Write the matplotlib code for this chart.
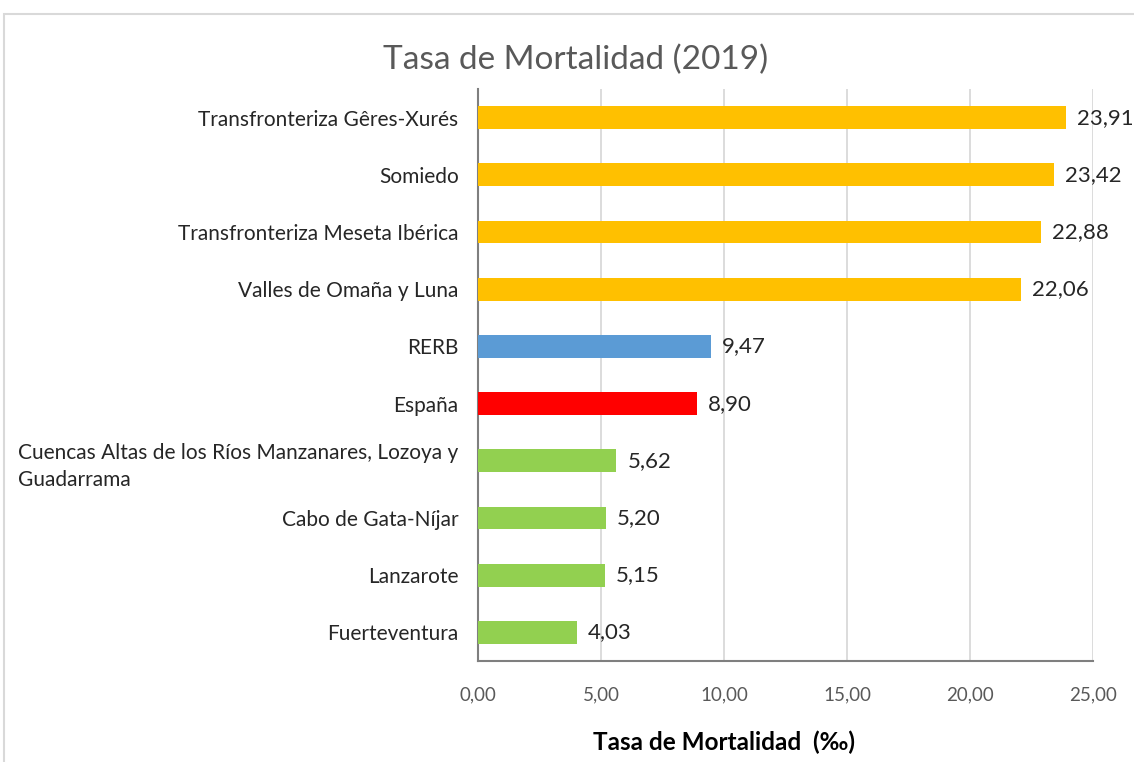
import matplotlib
matplotlib.use("Agg")
import matplotlib.pyplot as plt
from matplotlib.patches import Rectangle

plt.rcParams['font.family'] = ['Lato', 'DejaVu Sans']

categories = [
    "Transfronteriza Gêres-Xurés",
    "Somiedo",
    "Transfronteriza Meseta Ibérica",
    "Valles de Omaña y Luna",
    "RERB",
    "España",
    "Cuencas Altas de los Ríos Manzanares, Lozoya y\nGuadarrama",
    "Cabo de Gata-Níjar",
    "Lanzarote",
    "Fuerteventura",
]
values = [23.91, 23.42, 22.88, 22.06, 9.47, 8.90, 5.62, 5.20, 5.15, 4.03]
colors = ["#FFC000", "#FFC000", "#FFC000", "#FFC000", "#5B9BD5", "#FF0000",
          "#92D050", "#92D050", "#92D050", "#92D050"]
xticks = [0, 5, 10, 15, 20, 25]
xticklabels = ["0,00", "5,00", "10,00", "15,00", "20,00", "25,00"]

fig = plt.figure(figsize=(11.34, 7.62), dpi=100)
ax = fig.add_axes([478/1134, 1-661/762, (1093-478)/1134, (661-89)/762])

# outer chart border
fig.patches.append(Rectangle((4/1134, -0.05), 1.1, 1-14/762+0.05, transform=fig.transFigure,
                             fill=False, edgecolor="#D9D9D9", linewidth=1.5, zorder=0))

ypos = list(range(len(categories)))
ax.barh(ypos, values, height=0.4, color=colors, zorder=3)
ax.set_ylim(len(categories)-0.5, -0.5)
ax.set_xlim(0, 25)
ax.set_xticks(xticks)
ax.set_xticklabels(xticklabels, fontsize=13.5, color="#595959")
ax.set_yticks(ypos)
ax.set_yticklabels(categories, fontsize=15, color="#262626", multialignment="left",
                   linespacing=1.45)
ax.tick_params(axis="y", length=0, pad=14)
ax.tick_params(axis="x", length=0, pad=18)
ax.grid(axis="x", color="#D9D9D9", linewidth=1.3, zorder=0)
for s in ["top", "right"]:
    ax.spines[s].set_visible(False)
for s in ["left", "bottom"]:
    ax.spines[s].set_color("#7F7F7F")
    ax.spines[s].set_linewidth(1.5)

for y, v in zip(ypos, values):
    ax.text(v + 0.45, y, f"{v:.2f}".replace(".", ","), va="center", ha="left",
            fontsize=16, color="#262626", zorder=4)

fig.text(576/1134, 1-60/762, "Tasa de Mortalidad (2019)", ha="center", va="center",
         fontsize=24, color="#595959")
fig.text(724/1134, 1-742/762, "Tasa de Mortalidad  (‰)", ha="center", va="center",
         fontsize=17.5, fontweight="bold", color="#000000")

fig.savefig("out.png", dpi=100)
